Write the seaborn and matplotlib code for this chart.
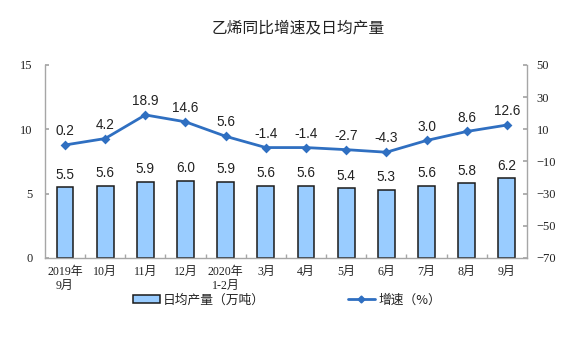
import matplotlib
matplotlib.use("Agg")
import matplotlib.pyplot as plt
from matplotlib.lines import Line2D
from matplotlib.patches import Patch
from matplotlib.ticker import FixedLocator
import numpy as np
import pandas as pd
import seaborn as sns

# Monthly ethylene output: daily average (10k tonnes) and YoY growth (%)
months = ["2019年\n9月", "10月", "11月", "12月", "2020年\n1-2月", "3月",
          "4月", "5月", "6月", "7月", "8月", "9月"]
daily_output = [5.5, 5.6, 5.9, 6.0, 5.9, 5.6, 5.6, 5.4, 5.3, 5.6, 5.8, 6.2]
growth = [0.2, 4.2, 18.9, 14.6, 5.6, -1.4, -1.4, -2.7, -4.3, 3.0, 8.6, 12.6]
left_ticks = [0, 5, 10, 15]
right_ticks = [-70, -50, -30, -10, 10, 30, 50]

title = "乙烯同比增速及日均产量"
bar_label = "日均产量（万吨）"
line_label = "增速（%）"

df = pd.DataFrame({"month": months, "output": daily_output, "growth": growth})

sns.set_theme(style="white")
plt.rcParams["font.family"] = ["Noto Sans CJK SC", "DejaVu Sans"]

BAR_FILL = "#99CCFF"
BAR_EDGE = "#1a1a1a"
LINE_COLOR = "#2F6FC1"
AXIS_GRAY = "#a6a6a6"
TEXT_COLOR = "#222222"
tick_font = ["Liberation Serif", "Noto Sans CJK SC"]

fig = plt.figure(figsize=(5.75, 3.38), dpi=100)
ax = fig.add_axes([0.078, 0.237, 0.8385, 0.571])

sns.barplot(data=df, x="month", y="output", ax=ax, color=BAR_FILL,
            width=0.42, edgecolor=BAR_EDGE, linewidth=1.1, saturation=1)
ax.set_ylim(0, 15)
ax.yaxis.set_major_locator(FixedLocator(left_ticks))

for i, v in enumerate(daily_output):
    ax.annotate(f"{v:.1f}", (i, v), xytext=(0, 4), textcoords="offset points",
                ha="center", va="bottom", fontsize=9.8,
                family="Liberation Sans", color=TEXT_COLOR)

ax2 = ax.twinx()
sns.pointplot(data=df, x="month", y="growth", ax=ax2, color=LINE_COLOR,
              markers="D", markersize=3.5, linewidth=2.0)
ax2.set_ylim(-70, 50)
ax2.yaxis.set_major_locator(FixedLocator(right_ticks))

for i, v in enumerate(growth):
    ax2.annotate(f"{v:.1f}", (i, v), xytext=(0, 5), textcoords="offset points",
                 ha="center", va="bottom", fontsize=9.8,
                 family="Liberation Sans", color=TEXT_COLOR)

for a in (ax, ax2):
    a.set_xlim(-0.5, len(months) - 0.5)
    a.set_xlabel("")
    a.set_ylabel("")
    a.grid(False)
    for side in ("left", "right", "bottom"):
        a.spines[side].set_color(AXIS_GRAY)
        a.spines[side].set_linewidth(1.0)
    a.spines["top"].set_visible(False)

ax2.spines["left"].set_visible(False)
ax2.spines["bottom"].set_visible(False)
ax.spines["right"].set_visible(False)

ax.tick_params(axis="y", direction="in", length=3, color=AXIS_GRAY,
               pad=9, labelsize=9, labelcolor=TEXT_COLOR, left=True)
ax2.tick_params(axis="y", direction="in", length=3, color=AXIS_GRAY,
                pad=7, labelsize=9, labelcolor=TEXT_COLOR, right=True)
for lbl in ax.get_yticklabels() + ax2.get_yticklabels():
    lbl.set_family(tick_font)

# x ticks: labels under each bar, small marks between categories
ax.set_xticks(range(len(months)))
ax.set_xticklabels(months, fontsize=8.6, color=TEXT_COLOR, linespacing=1.15)
for lbl in ax.get_xticklabels():
    lbl.set_family(tick_font)
ax.tick_params(axis="x", which="major", length=0, pad=6)
ax.set_xticks(np.arange(0.5, len(months) - 1, 1.0), minor=True)
ax.tick_params(axis="x", which="minor", direction="in", length=3,
               color=AXIS_GRAY, bottom=True)
ax2.tick_params(axis="x", bottom=False, labelbottom=False)

fig.text(0.519, 1 - 28 / 338, title, ha="center", va="center",
         fontsize=11.3, color=TEXT_COLOR)

handles = [
    Patch(facecolor=BAR_FILL, edgecolor=BAR_EDGE, linewidth=1.1),
    Line2D([], [], color=LINE_COLOR, lw=2.0, marker="D", markersize=3.5),
]
fig.legend(handles, [bar_label, line_label], loc="center",
           bbox_to_anchor=(0.499, 1 - 300 / 338), ncol=2, frameon=False,
           fontsize=9.2, handlelength=2.1, handleheight=0.5,
           handletextpad=0.25, columnspacing=6.5, labelcolor=TEXT_COLOR)

fig.savefig("out.png", dpi=100)
